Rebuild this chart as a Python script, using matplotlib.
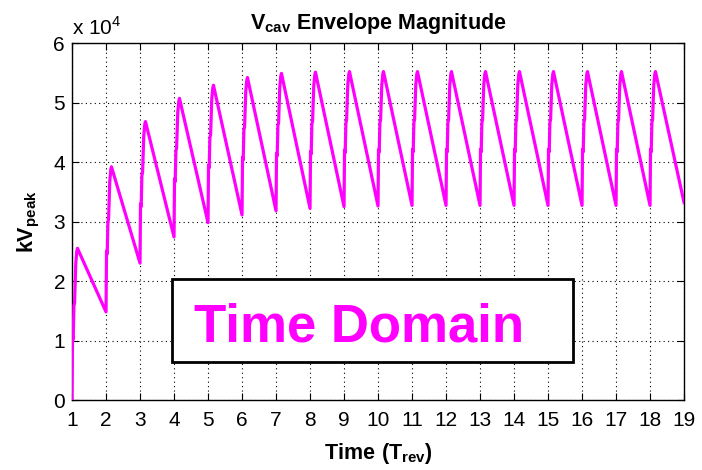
#!/usr/bin/env python3

# cavity voltage envelope over successive revolutions, sawtooth build-up to steady state

import matplotlib as mpl
from matplotlib import pyplot as plt
import numpy as np

mpl.rcParams["font.family"] = "Liberation Sans"
mpl.rcParams["mathtext.fontset"] = "custom"
mpl.rcParams["mathtext.rm"] = "Liberation Sans"
mpl.rcParams["mathtext.bf"] = "Liberation Sans:bold"

# revolution index where each fill starts
turn_start = np.arange(1, 19)
# envelope at the start of each turn (units of 1e4 kV)
start_vals = [0.0, 1.48, 2.30, 2.74, 2.98, 3.11, 3.18, 3.22, 3.25, 3.26, 3.27,
              3.27, 3.27, 3.27, 3.27, 3.27, 3.27, 3.27]
# peak reached just after each kick
peak_vals = [2.55, 3.92, 4.68, 5.07, 5.29, 5.42, 5.49, 5.51, 5.52, 5.52, 5.52,
             5.52, 5.52, 5.52, 5.52, 5.52, 5.52, 5.52]
# value at the very end of the trace
end_val = 3.32

# shape of the rising edge: offset (T_rev) and fraction of the jump
rise_dt = [0.0, 0.015, 0.035, 0.055, 0.075, 0.11, 0.14, 0.16]
rise_frac = [0.0, 0.42, 0.40, 0.62, 0.64, 0.90, 0.98, 1.0]

xs = []
ys = []
for k, n in enumerate(turn_start):
    lo = start_vals[k]
    hi = peak_vals[k]
    for dt, fr in zip(rise_dt, rise_frac):
        xs.append(n + dt)
        ys.append(lo + fr * (hi - lo))
xs.append(19.0)
ys.append(end_val)
xs = np.array(xs)
ys = np.array(ys) * 1e4

fig = plt.figure(figsize=(7.02, 4.70), dpi=100)
ax = fig.add_axes([0.1026, 0.1489, 0.8718, 0.7596])

ax.plot(xs, ys, color="#ff00ff", lw=2.3, zorder=3)

ax.set_xlim(1, 19)
ax.set_ylim(0, 6e4)
ax.set_xticks(np.arange(1, 20))
ax.set_yticks(np.arange(0, 7) * 1e4)
ax.set_yticklabels([str(v) for v in range(7)])
ax.tick_params(direction="in", length=5, width=0.8, labelsize=15,
               top=True, right=True, pad=5)
ax.tick_params(axis="x", pad=8)
ax.grid(True, color="black", linestyle=(0, (1, 3)), linewidth=0.8)
for s in ax.spines.values():
    s.set_linewidth(1.0)

ax.text(0.0, 1.012, r"x 10$^{4}$", transform=ax.transAxes, fontsize=15,
        ha="left", va="bottom")

ax.set_title(r"$\mathbf{V_{cav}}$ Envelope Magnitude", fontsize=15.5,
             fontweight="bold", pad=10)
ax.set_xlabel(r"$\mathbf{Time\ (T_{rev})}$", fontsize=15.5, labelpad=8)
ax.set_ylabel(r"$\mathbf{kV_{peak}}$", fontsize=15.5, labelpad=8)

# label box in the empty lower region
box = mpl.patches.Rectangle((3.94, 0.64e4), 15.72 - 3.94, 2.03e4 - 0.64e4,
                            fc="white", ec="black", lw=2.0, zorder=4)
ax.add_patch(box)
ax.text(9.43, 0.98e4, "Time Domain", fontsize=38, fontweight="bold",
        color="#ff00ff", ha="center", va="baseline", zorder=5)

fig.savefig("out.png", dpi=100)
print("Saved out.png")
